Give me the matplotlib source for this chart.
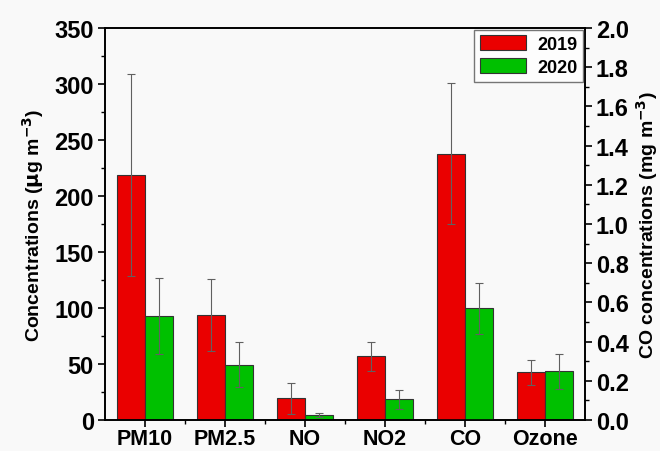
import numpy as np
import matplotlib.pyplot as plt
from matplotlib.ticker import MultipleLocator, FixedLocator

plt.rcParams['font.family'] = ['Liberation Sans', 'DejaVu Sans']
plt.rcParams['font.weight'] = 'bold'

pollutants = ["PM10", "PM2.5", "NO", "NO2", "CO", "Ozone"]
# left axis (ug m-3); the CO entry is in mg m-3 on the right axis
mean_2019 = [219, 93.7, 19.3, 56.8, 1.36, 42.6]
err_2019 = [90, 32, 14, 13, 0.36, 11]
mean_2020 = [92.9, 49.4, 4.8, 18.5, 0.57, 43.5]
err_2020 = [34, 20, 1.8, 8.5, 0.13, 15.5]

red = '#ea0000'
green = '#00c000'
width = 0.35

fig = plt.figure(figsize=(6.6, 4.52), dpi=100, facecolor='#f9f9f9')
ax = fig.add_axes([0.159, 0.0686, 0.727, 0.867])
ax.set_facecolor('#f9f9f9')
ax2 = ax.twinx()

x = np.arange(len(pollutants))
ekw = dict(ecolor='#606060', elinewidth=0.8, capsize=3, capthick=0.8)
for i, name in enumerate(pollutants):
    target = ax2 if name == "CO" else ax
    target.bar(x[i] - width / 2, mean_2019[i], width, color=red, edgecolor='#333333',
               linewidth=0.8, yerr=err_2019[i], error_kw=ekw,
               label='2019' if i == 0 else None)
    target.bar(x[i] + width / 2, mean_2020[i], width, color=green, edgecolor='#333333',
               linewidth=0.8, yerr=err_2020[i], error_kw=ekw,
               label='2020' if i == 0 else None)

ax.set_xlim(-0.5, 5.5)
ax.set_ylim(0, 350)
ax2.set_ylim(0, 2.0)

ax.set_xticks(x)
ax.set_xticklabels(pollutants)
ax.xaxis.set_minor_locator(FixedLocator(x[:-1] + 0.5))
ax.yaxis.set_major_locator(MultipleLocator(50))
ax.yaxis.set_minor_locator(MultipleLocator(25))
ax2.yaxis.set_major_locator(MultipleLocator(0.2))
ax2.yaxis.set_minor_locator(MultipleLocator(0.1))
ax2.yaxis.set_major_formatter(plt.FormatStrFormatter('%.1f'))

for a in (ax, ax2):
    a.tick_params(which='major', direction='out', length=5, width=1.2, labelsize=17, pad=3)
    a.tick_params(which='minor', direction='out', length=3, width=1.0)
    for s in a.spines.values():
        s.set_linewidth(1.2)
ax.tick_params(axis='x', which='both', labelsize=15.5, pad=1)
for lab in ax.get_yticklabels() + ax2.get_yticklabels() + ax.get_xticklabels():
    lab.set_fontweight('bold')

ax.set_ylabel(r'Concentrations ($\mathbf{\mu}$g m$^{\mathbf{-3}}$)', fontsize=14,
              fontweight='bold', labelpad=6)
ax2.set_ylabel(r'CO concentrations (mg m$^{\mathbf{-3}}$)', fontsize=14,
               fontweight='bold', labelpad=4)

h, l = ax.get_legend_handles_labels()
leg = ax2.legend(h, l, loc='upper right', fontsize=13, frameon=True, fancybox=False,
                 edgecolor='#555555', borderaxespad=0.1, handlelength=2.6, handleheight=0.9,
                 borderpad=0.3, labelspacing=0.3, handletextpad=0.6)
leg.get_frame().set_linewidth(1.0)
for t in leg.get_texts():
    t.set_fontweight('bold')

fig.savefig('out.png', dpi=100, facecolor=fig.get_facecolor())
